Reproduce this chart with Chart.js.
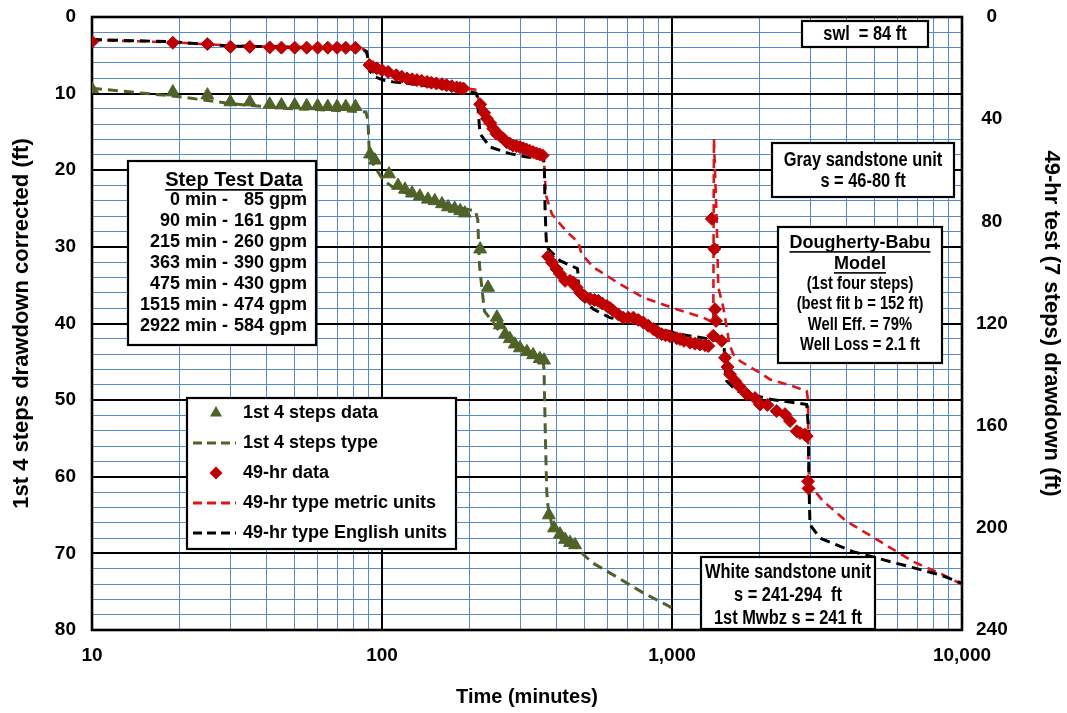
<!DOCTYPE html>
<html>
<head>
<meta charset="utf-8">
<title>Step test drawdown</title>
<script src="https://cdn.jsdelivr.net/npm/chart.js@4/dist/chart.umd.min.js"></script>
<style>
  html, body { margin: 0; padding: 0; background: #fff; }
  #wrap { width: 1067px; height: 713px; }
</style>
</head>
<body>
<div id="wrap"><canvas id="chart" width="1067" height="713"></canvas></div>
<script>
// ---- 1st four steps (left axis, ft) ----
const stepDataTime = [10, 19, 25, 30, 35, 41, 45, 50, 55, 60, 65, 70, 75, 81,
  91, 94.6, 105.7, 113.6, 120, 127, 135, 144, 152, 161, 169, 178, 186, 193,
  218, 232, 249, 255, 266, 276, 287, 299, 316, 332, 350, 362,
  376, 392, 411, 428, 445, 463];
const stepDataDrawdown = [9.4, 9.8, 10.2, 11.1, 11.1, 11.4, 11.5, 11.5, 11.6, 11.6, 11.7, 11.7, 11.7, 11.7,
  17.9, 18.7, 20.5, 22.0, 22.5, 23.0, 23.4, 23.8, 24.0, 24.4, 24.8, 25.0, 25.3, 25.6,
  30.3, 35.3, 39.2, 40.2, 41.4, 42.0, 42.7, 43.2, 43.7, 44.1, 44.6, 44.8,
  65.0, 66.7, 67.5, 68.2, 68.6, 68.9];

const stepTypeTime = [10, 20, 30, 45, 70, 88, 89.5, 90.5, 94.6, 101, 110, 130, 160, 190, 210, 214,
  215.5, 217, 219, 225.6, 254, 299, 330, 358.6, 362, 366, 370, 374, 385, 400, 430, 469, 530, 627, 800, 1000];
const stepTypeDrawdown = [9.3, 10.4, 11.3, 11.9, 12.2, 12.4, 13.5, 18.3, 19.6, 21.3, 22.3, 23.5, 24.4, 25.0, 25.3, 26.5,
  30.0, 32.5, 34.0, 38.4, 41.0, 42.9, 43.9, 44.5, 46.0, 55.0, 62.0, 64.0, 66.2, 67.6, 68.6, 69.3, 71.2, 72.8, 75.2, 77.1];

// ---- 49-hr test (right axis, ft) ----
const hrDataTime = [10, 19, 25, 30, 35, 41, 45, 50, 55, 60, 65, 70, 75, 81,
  90.5, 93, 96, 100, 105, 112, 117, 122, 127, 132, 137, 143, 148, 154, 161, 167, 174, 181, 186, 191,
  218, 225, 230, 236, 242, 248, 255, 262, 269, 276, 283, 291, 299, 307, 315, 323, 332, 341, 350, 358,
  374, 385, 400, 411, 428, 445, 457, 469,
  482, 500, 522, 540, 557, 575, 596, 612, 627, 652, 679, 707, 736, 765, 796, 828, 862, 890, 921, 950,
  984, 1038, 1066, 1100, 1154, 1200, 1249, 1300, 1334, 1371, 1399, 1407, 1418, 1388, 1484,
  1523, 1555, 1585, 1649, 1716, 1809, 1933, 2011, 2131, 2296, 2453, 2553, 2692, 2763, 2870, 2914,
  2945, 2958];
const hrDataDrawdown = [9.7, 10.1, 10.6, 11.7, 11.7, 11.9, 12.0, 12.0, 12.0, 12.0, 12.0, 12.05, 12.05, 12.05,
  18.8, 19.6, 20.1, 20.8, 21.5, 22.8, 23.4, 24.1, 24.4, 24.7, 25.0, 25.4, 25.7, 26.0, 26.3, 26.7, 27.1, 27.6, 27.8, 28.0,
  34.2, 37.5, 39.8, 41.5, 43.7, 45.7, 46.5, 47.6, 49.0, 49.6, 50.3, 50.6, 50.9, 51.4, 51.9, 52.4, 52.9, 53.4, 53.8, 54.2,
  93.8, 96.1, 98.7, 100.6, 103.3, 103.3, 103.9, 105.9,
  107.9, 109.3, 110.4, 110.8, 111.1, 112.2, 113.1, 114.0, 115.0, 116.4, 117.7, 117.7, 117.7, 118.6, 119.6, 120.9, 122.2, 123.2, 124.2, 124.6,
  125.0, 125.8, 126.1, 126.8, 127.5, 127.9, 128.2, 128.5, 128.8, 79.0, 90.8, 114.4, 119.0, 124.8, 126.8,
  133.4, 137.0, 139.9, 142.5, 144.9, 147.7, 149.2, 151.7, 151.9, 154.3, 155.5, 158.2, 162.2, 162.9, 163.5, 164.1,
  181.8, 184.6];

const metricTime = [10, 19, 30, 45, 70, 86, 89, 90.5, 96, 105, 120, 140, 165, 190, 212, 214, 217, 230,
  248, 275, 315, 355, 362, 364, 368, 385, 411, 433, 475, 488, 536, 662, 796, 1038, 1282, 1388,
  1395, 1426, 1444, 1503, 1544, 1580, 1627, 1716, 2011, 2178, 2486, 2914,
  2945, 2955, 2975, 3323, 4004, 5215, 6776, 8620, 10000];
const metricDrawdown = [9.0, 9.9, 11.2, 11.7, 12.1, 12.5, 14.5, 18.5, 20.3, 21.7, 23.8, 25.2, 26.6, 27.8, 28.5, 31.0, 34.0, 39.8,
  45.5, 49.5, 52.0, 54.0, 55.0, 62.0, 70.0, 77.1, 81.0, 84.0, 88.2, 92.8, 98.0, 104.6, 109.8, 114.4, 117.7, 119.6,
  47.6, 79.7, 105.9, 113.7, 121.6, 128.5, 132.0, 134.7, 139.3, 141.9, 143.8, 146.4,
  150.0, 175.0, 183.0, 189.6, 197.5, 205.3, 213.2, 218.4, 222.2];

const englishTime = [10, 19, 30, 45, 70, 86, 88.5, 89.5, 90.5, 94.6, 101, 109, 130, 160, 201, 211, 213.5, 215,
  217.8, 235.7, 276, 315.5, 361, 363, 365, 368, 369.8, 411, 472, 474, 476, 482, 536, 610, 736, 909,
  1066, 1464, 1510, 1520, 1530, 1544, 1671, 2178, 2914, 2950, 2970, 2991, 3238, 4209, 5955, 8398, 10000];
const englishDrawdown = [8.8, 9.7, 11.4, 11.7, 12.2, 12.7, 13.5, 16.5, 21.0, 23.4, 24.7, 25.4, 26.3, 27.7, 29.3, 29.8, 31.5, 38.0,
  45.7, 50.9, 53.5, 54.8, 55.5, 60.0, 75.0, 86.0, 90.2, 95.4, 98.5, 100.5, 105.5, 109.8, 114.4, 117.7, 119.6, 122.2,
  124.2, 126.8, 128.2, 133.0, 139.0, 142.5, 146.4, 149.7, 151.7, 160.0, 185.0, 198.8, 204.0, 209.3, 213.9, 218.4, 221.7];

// ---- step schedule ----
const stepMinutes = [0, 90, 215, 363, 475, 1515, 2922];
const stepRates = [85, 161, 260, 390, 430, 474, 584];

// ---- axis ticks ----
const timeGrid = [10, 20, 30, 40, 50, 60, 70, 80, 90,
  100, 200, 300, 400, 500, 600, 700, 800, 900,
  1000, 2000, 3000, 4000, 5000, 6000, 7000, 8000, 9000, 10000];
const timeLabels = [10, 100, 1000, 10000];
const leftGrid = [0, 2, 4, 6, 8, 10, 12, 14, 16, 18, 20, 22, 24, 26, 28, 30, 32, 34, 36, 38, 40,
  42, 44, 46, 48, 50, 52, 54, 56, 58, 60, 62, 64, 66, 68, 70, 72, 74, 76, 78, 80];
const leftLabels = [0, 10, 20, 30, 40, 50, 60, 70, 80];
const rightLabels = [0, 40, 80, 120, 160, 200, 240];

const FONT = "'Liberation Sans', Arial, Helvetica, sans-serif";
const GRID_BLUE = 'rgb(88,138,206)';
const OLIVE = '#4F6228';
const DARK_RED = '#C00000';
const RED = '#E01414';

const pts = (xs, ys) => xs.map((x, i) => ({ x, y: ys[i] }));

const datasets = [
  {
    label: '1st 4 steps data', data: pts(stepDataTime, stepDataDrawdown), yAxisID: 'y',
    showLine: false, pointStyle: 'triangle', pointRadius: 7.5, pointBackgroundColor: OLIVE,
    pointBorderColor: OLIVE, pointBorderWidth: 1, order: 1
  },
  {
    label: '1st 4 steps type', data: pts(stepTypeTime, stepTypeDrawdown), yAxisID: 'y',
    borderColor: OLIVE, borderWidth: 3, borderDash: [10, 6], pointRadius: 0, fill: false, order: 4
  },
  {
    label: '49-hr data', data: pts(hrDataTime, hrDataDrawdown), yAxisID: 'y2',
    showLine: false, pointStyle: 'rectRot', pointRadius: 6.5, pointBackgroundColor: DARK_RED,
    pointBorderColor: DARK_RED, pointBorderWidth: 1, order: 0
  },
  {
    label: '49-hr type metric units', data: pts(metricTime, metricDrawdown), yAxisID: 'y2',
    borderColor: RED, borderWidth: 2.6, borderDash: [9, 6], pointRadius: 0, fill: false, order: 3
  },
  {
    label: '49-hr type English units', data: pts(englishTime, englishDrawdown), yAxisID: 'y2',
    borderColor: '#000', borderWidth: 3, borderDash: [10, 6], pointRadius: 0, fill: false, order: 2
  }
];

function drawText(ctx, str, x, y, opt = {}) {
  const size = opt.size || 18, sx = opt.narrow || 1, align = opt.align || 'center';
  ctx.save();
  ctx.font = `bold ${size}px ${FONT}`;
  ctx.fillStyle = '#000';
  ctx.textBaseline = 'middle';
  ctx.textAlign = align;
  ctx.translate(x, y);
  ctx.scale(sx, 1);
  ctx.fillText(str, 0, 0);
  if (opt.underline) {
    const w = ctx.measureText(str).width;
    const left = align === 'center' ? -w / 2 : align === 'right' ? -w : 0;
    ctx.fillRect(left, size * 0.45, w, Math.max(1.6, size * 0.085));
  }
  ctx.restore();
}

function drawBox(ctx, x0, y0, x1, y1) {
  ctx.save();
  ctx.fillStyle = '#fff';
  ctx.fillRect(x0, y0, x1 - x0, y1 - y0);
  ctx.strokeStyle = '#000';
  ctx.lineWidth = 2.2;
  ctx.strokeRect(x0, y0, x1 - x0, y1 - y0);
  ctx.restore();
}

function legendSymbol(ctx, ds, cx, cy) {
  ctx.save();
  if (ds.showLine === false) {
    ctx.fillStyle = ds.pointBackgroundColor;
    ctx.beginPath();
    if (ds.pointStyle === 'triangle') {
      const r = 7;
      ctx.moveTo(cx, cy - r);
      ctx.lineTo(cx + r * 0.866, cy + r * 0.5);
      ctx.lineTo(cx - r * 0.866, cy + r * 0.5);
    } else {
      const r = 6.5;
      ctx.moveTo(cx, cy - r); ctx.lineTo(cx + r, cy); ctx.lineTo(cx, cy + r); ctx.lineTo(cx - r, cy);
    }
    ctx.closePath();
    ctx.fill();
  } else {
    ctx.strokeStyle = ds.borderColor;
    ctx.lineWidth = 3;
    ctx.setLineDash([9, 5]);
    ctx.beginPath();
    ctx.moveTo(cx - 23, cy);
    ctx.lineTo(cx + 20, cy);
    ctx.stroke();
  }
  ctx.restore();
}

const overlay = {
  id: 'overlay',
  beforeDatasetsDraw(chart) {
    const { ctx, chartArea: a, scales } = chart;
    const x = scales.x, y = scales.y;
    ctx.save();
    ctx.strokeStyle = '#000';
    ctx.lineWidth = 2;
    ctx.beginPath();
    timeLabels.forEach(v => {
      const px = Math.round(x.getPixelForValue(v));
      ctx.moveTo(px, a.top); ctx.lineTo(px, a.bottom);
    });
    leftLabels.forEach(v => {
      const py = Math.round(y.getPixelForValue(v));
      ctx.moveTo(a.left, py); ctx.lineTo(a.right, py);
    });
    ctx.stroke();
    ctx.lineWidth = 2.6;
    ctx.strokeRect(a.left, a.top, a.right - a.left, a.bottom - a.top);
    ctx.restore();
  },
  afterDatasetsDraw(chart) {
    const { ctx } = chart;

    // well and unit notes
    drawBox(ctx, 802, 21, 928, 47);
    drawText(ctx, 'swl  = 84 ft', 865, 34, { size: 20, narrow: 0.82 });

    drawBox(ctx, 772, 143, 954, 197);
    drawText(ctx, 'Gray sandstone unit', 863, 160, { size: 20, narrow: 0.82 });
    drawText(ctx, 's = 46-80 ft', 863, 181, { size: 20, narrow: 0.82 });

    drawBox(ctx, 778, 227, 942, 363);
    drawText(ctx, 'Dougherty-Babu', 860, 243, { size: 18, underline: true });
    drawText(ctx, 'Model', 860, 264, { size: 18, underline: true });
    drawText(ctx, '(1st four steps)', 860, 284, { size: 18, narrow: 0.82 });
    drawText(ctx, '(best fit b = 152 ft)', 860, 304, { size: 18, narrow: 0.82 });
    drawText(ctx, 'Well Eff. = 79%', 860, 325, { size: 18, narrow: 0.82 });
    drawText(ctx, 'Well Loss = 2.1 ft', 860, 345, { size: 18, narrow: 0.82 });

    drawBox(ctx, 701, 557, 875, 629);
    drawText(ctx, 'White sandstone unit', 788, 572, { size: 20, narrow: 0.82 });
    drawText(ctx, 's = 241-294  ft', 788, 595, { size: 20, narrow: 0.82 });
    drawText(ctx, '1st Mwbz s = 241 ft', 788, 618, { size: 20, narrow: 0.82 });

    // step schedule
    drawBox(ctx, 128, 161, 316, 345);
    drawText(ctx, 'Step Test Data', 234, 180, { size: 20, underline: true });
    stepMinutes.forEach((m, i) => {
      const ty = 200 + i * 21;
      drawText(ctx, `${m} min -`, 228, ty, { size: 18, align: 'right' });
      drawText(ctx, `${stepRates[i]} gpm`, 307, ty, { size: 18, align: 'right' });
    });

    // legend
    drawBox(ctx, 187, 398, 456, 549);
    chart.data.datasets.forEach((ds, i) => {
      const cy = 413 + i * 30;
      legendSymbol(ctx, ds, 216, cy);
      drawText(ctx, ds.label, 243, cy, { size: 18, align: 'left' });
    });
  }
};

const tickFont = { family: FONT, size: 19, weight: 'bold' };
const titleFont = { family: FONT, size: 20, weight: 'bold' };
const sideTitleFont = { family: FONT, size: 22, weight: 'bold' };

// vertical axes: fixed width, no extra label overhang above/below the plot
const fixVertical = width => s => { s.width = width; s.paddingTop = 0; s.paddingBottom = 0; };

new Chart(document.getElementById('chart'), {
  type: 'line',
  data: { datasets },
  plugins: [overlay],
  options: {
    responsive: false,
    animation: false,
    devicePixelRatio: 1,
    layout: { padding: { top: 17, left: 0, right: 0, bottom: 0 } },
    plugins: { legend: { display: false }, tooltip: { enabled: false } },
    elements: { line: { tension: 0 } },
    scales: {
      x: {
        type: 'logarithmic', position: 'bottom', min: 10, max: 10000,
        afterBuildTicks: s => { s.ticks = timeGrid.map(v => ({ value: v })); },
        afterFit: s => { s.height = 83; },
        ticks: {
          autoSkip: false, maxRotation: 0, minRotation: 0, padding: 14, color: '#000', font: tickFont,
          callback: v => timeLabels.includes(v) ? v.toLocaleString('en-US') : ''
        },
        grid: {
          drawTicks: false, lineWidth: 1,
          color: c => timeLabels.includes(c.tick && c.tick.value) ? 'rgba(0,0,0,0)' : GRID_BLUE
        },
        border: { display: false },
        title: { display: true, text: 'Time (minutes)', color: '#000', font: titleFont, padding: { top: 0, bottom: 4 } }
      },
      y: {
        type: 'linear', position: 'left', min: 0, max: 80, reverse: true,
        afterBuildTicks: s => { s.ticks = leftGrid.map(v => ({ value: v })); },
        afterFit: fixVertical(92),
        ticks: {
          autoSkip: false, padding: 16, color: '#000', font: tickFont,
          callback: v => leftLabels.includes(v) ? String(v) : ''
        },
        grid: {
          drawTicks: false, lineWidth: 1,
          color: c => leftLabels.includes(c.tick && c.tick.value) ? 'rgba(0,0,0,0)' : GRID_BLUE
        },
        border: { display: false },
        title: { display: true, text: '1st 4 steps drawdown corrected (ft)', color: '#000', font: sideTitleFont, padding: { top: 9, bottom: 0 } }
      },
      y2: {
        type: 'linear', position: 'right', min: 0, max: 240, reverse: true,
        afterBuildTicks: s => { s.ticks = rightLabels.map(v => ({ value: v })); },
        afterFit: fixVertical(105),
        ticks: { autoSkip: false, padding: 14, crossAlign: 'center', color: '#000', font: tickFont },
        grid: { display: false, drawTicks: false },
        border: { display: false },
        title: { display: true, text: '49-hr test (7 steps) drawdown (ft)', color: '#000', font: sideTitleFont, padding: { top: 3, bottom: 0 } }
      }
    }
  }
});
</script>
</body>
</html>
